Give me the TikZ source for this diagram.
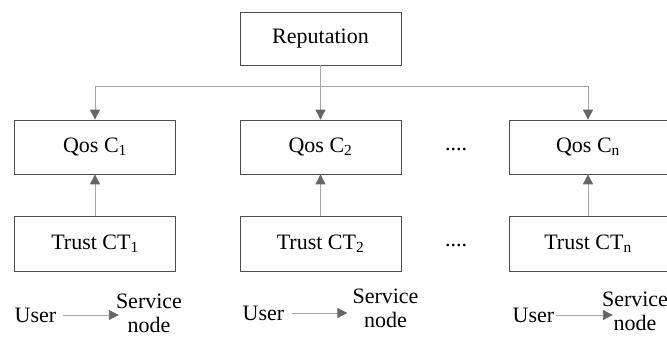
\documentclass[tikz,border=0pt]{standalone}
\usepackage{fontspec}
\setmainfont{Liberation Serif}
\usetikzlibrary{arrows.meta}

\begin{document}
\begin{tikzpicture}[x=1pt,y=-1pt,
  box/.style={draw=black!70,line width=0.8pt,minimum width=161pt,minimum height=54pt,inner sep=0pt},
  link/.style={draw=black!35,line width=0.9pt},
  arr/.style={link,-{Triangle[length=10pt,width=10pt,color=black!60]}},
  lbl/.style={inner sep=0pt,font=\fontsize{22}{24}\selectfont}]
\useasboundingbox (0,0) rectangle (667,340);

\node [box,lbl,minimum width=161pt,minimum height=53pt] (rep) at (320.5,38.5) {Reputation};

\node [box,lbl] (q1) at (95,147) {Qos C\textsubscript{1}};
\node [box,lbl] (q2) at (320.5,147) {Qos C\textsubscript{2}};
\node [box,lbl,minimum width=158pt] (qn) at (588,147) {Qos C\textsubscript{n}};
\node [lbl] (dots1) at (456,150) {....};

\node [box,lbl,minimum height=55pt] (t1) at (95,243.5) {Trust CT\textsubscript{1}};
\node [box,lbl,minimum height=55pt] (t2) at (320.5,243.5) {Trust CT\textsubscript{2}};
\node [box,lbl,minimum width=158pt,minimum height=55pt] (tn) at (588,243.5) {Trust CT\textsubscript{n}};
\node [lbl] (dots2) at (456,246) {....};

\coordinate (bus) at (0,86);
\draw [link] (bus -| q1.north) -- (bus -| qn.north);
\draw [arr] (rep.south) -- (q2.north);
\draw [arr] (bus -| q1.north) -- (q1.north);
\draw [arr] (bus -| qn.north) -- (qn.north);

\draw [arr] (t1.north) -- (q1.south);
\draw [arr] (t2.north) -- (q2.south);
\draw [arr] (tn.north) -- (qn.south);

% users and service nodes
\node [lbl] (u1) at (35.5,315) {User};
\node [lbl,align=center] (s1) at (149,313) {Service\\node};
\node [lbl] (u2) at (263.5,313) {User};
\node [lbl,align=center] (s2) at (385.5,308) {Service\\node};
\node [lbl] (u3) at (533.5,315) {User};
\node [lbl,align=center] (s3) at (635,311) {Service\\node};

\draw [arr] ([xshift=7pt]u1.east) -- ([xshift=3pt]u1.east -| s1.west);
\draw [arr] ([xshift=8pt]u2.east) -- ([xshift=-5pt]u2.east -| s2.west);
\draw [arr] ([xshift=2pt]u3.east) -- ([xshift=11pt]u3.east -| s3.west);

\end{tikzpicture}
\end{document}
